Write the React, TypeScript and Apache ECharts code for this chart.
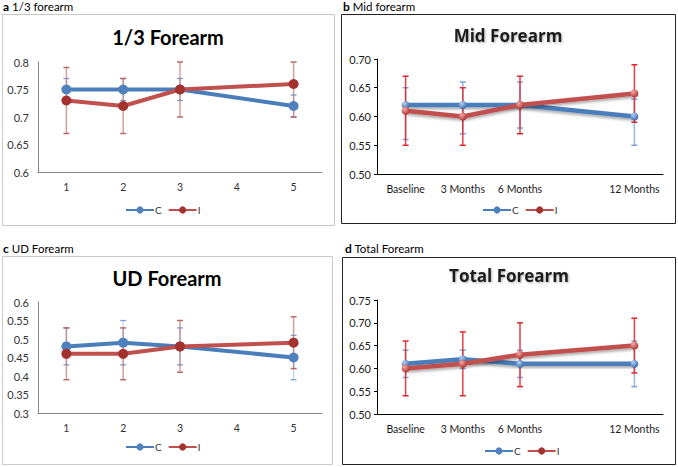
import React, { useEffect, useRef } from "react";
import * as echarts from "echarts";

const catsNum = ["1", "2", "3", "4", "5"];
const catsMonths = ["Baseline", "3 Months", "6 Months", "", "12 Months"];

// a: 1/3 forearm
const cA = [0.75, 0.75, 0.75, null, 0.72];
const cALow = [0.73, 0.73, 0.73, null, 0.7];
const cAHigh = [0.77, 0.77, 0.77, null, 0.74];
const iA = [0.73, 0.72, 0.75, null, 0.76];
const iALow = [0.67, 0.67, 0.7, null, 0.7];
const iAHigh = [0.79, 0.77, 0.8, null, 0.8];

// b: Mid forearm
const cB = [0.62, 0.62, 0.62, null, 0.6];
const cBLow = [0.56, 0.57, 0.58, null, 0.55];
const cBHigh = [0.65, 0.66, 0.66, null, 0.63];
const iB = [0.61, 0.6, 0.62, null, 0.64];
const iBLow = [0.55, 0.55, 0.57, null, 0.59];
const iBHigh = [0.67, 0.65, 0.67, null, 0.69];

// c: UD forearm
const cC = [0.48, 0.49, 0.48, null, 0.45];
const cCLow = [0.43, 0.43, 0.43, null, 0.39];
const cCHigh = [0.53, 0.55, 0.53, null, 0.51];
const iC = [0.46, 0.46, 0.48, null, 0.49];
const iCLow = [0.39, 0.39, 0.41, null, 0.42];
const iCHigh = [0.53, 0.53, 0.55, null, 0.56];

// d: Total forearm
const cD = [0.61, 0.62, 0.61, null, 0.61];
const cDLow = [0.58, 0.6, 0.58, null, 0.56];
const cDHigh = [0.64, 0.64, 0.64, null, 0.66];
const iD = [0.6, 0.61, 0.63, null, 0.65];
const iDLow = [0.54, 0.54, 0.56, null, 0.59];
const iDHigh = [0.66, 0.68, 0.7, null, 0.71];

const yRanges = [
  { min: 0.6, max: 0.8, interval: 0.05, fixed: false },
  { min: 0.5, max: 0.7, interval: 0.05, fixed: true },
  { min: 0.3, max: 0.6, interval: 0.05, fixed: false },
  { min: 0.5, max: 0.75, interval: 0.05, fixed: true },
];

const FONT = "Lato";

export default function App() {
  const ref = useRef<HTMLDivElement>(null);
  useEffect(() => {
    document.body.style.margin = "0";
    const chart = echarts.init(ref.current!, null, { renderer: "svg" });

    const panels = [
      { cats: catsNum, c: cA, cl: cALow, ch: cAHigh, i: iA, il: iALow, ih: iAHigh, excel: false },
      { cats: catsMonths, c: cB, cl: cBLow, ch: cBHigh, i: iB, il: iBLow, ih: iBHigh, excel: true },
      { cats: catsNum, c: cC, cl: cCLow, ch: cCHigh, i: iC, il: iCLow, ih: iCHigh, excel: false },
      { cats: catsMonths, c: cD, cl: cDLow, ch: cDHigh, i: iD, il: iDLow, ih: iDHigh, excel: true },
    ];

    const grids = [
      { left: 38, top: 62, width: 284, height: 110 },
      { left: 377, top: 59, width: 286, height: 115 },
      { left: 38, top: 302, width: 284, height: 111 },
      { left: 377, top: 300, width: 286, height: 114 },
    ];

    const blueSphere = new echarts.graphic.RadialGradient(0.35, 0.3, 0.75, [
      { offset: 0, color: "#b7d0f2" },
      { offset: 1, color: "#3567ad" },
    ]);
    const redSphere = new echarts.graphic.RadialGradient(0.35, 0.3, 0.75, [
      { offset: 0, color: "#f3aaa8" },
      { offset: 1, color: "#b12f2c" },
    ]);

    const errSeries = (
      k: number,
      name: string,
      lo: (number | null)[],
      hi: (number | null)[],
      lineColor: string,
      capColor: string,
      width: number
    ) => {
      const data: number[][] = [];
      lo.forEach((v, idx) => {
        if (v != null && hi[idx] != null) data.push([idx, v, hi[idx] as number]);
      });
      return {
        type: "custom",
        name: name + "_err",
        xAxisIndex: k,
        yAxisIndex: k,
        z: 1,
        silent: true,
        encode: { x: 0, y: [1, 2] },
        data,
        renderItem: (params: any, api: any) => {
          const x = api.value(0);
          const pLo = api.coord([x, api.value(1)]);
          const pHi = api.coord([x, api.value(2)]);
          const w = 3;
          return {
            type: "group",
            children: [
              {
                type: "line",
                shape: { x1: pLo[0], y1: pLo[1], x2: pHi[0], y2: pHi[1] },
                style: { stroke: lineColor, lineWidth: width },
              },
              {
                type: "line",
                shape: { x1: pLo[0] - w, y1: pLo[1], x2: pLo[0] + w, y2: pLo[1] },
                style: { stroke: capColor, lineWidth: width },
              },
              {
                type: "line",
                shape: { x1: pHi[0] - w, y1: pHi[1], x2: pHi[0] + w, y2: pHi[1] },
                style: { stroke: capColor, lineWidth: width },
              },
            ],
          };
        },
      };
    };

    const series: any[] = [];
    panels.forEach((p, k) => {
      if (p.excel) {
        series.push(
          errSeries(k, "C", p.cl, p.ch, "rgba(120,160,215,0.75)", "#7ea3d6", 1.5),
          errSeries(k, "I", p.il, p.ih, "rgba(225,30,35,0.85)", "#e0282e", 1.5)
        );
      } else {
        series.push(
          errSeries(k, "C", p.cl, p.ch, "rgba(120,160,215,0.45)", "#7f9fd3", 1.3),
          errSeries(k, "I", p.il, p.ih, "rgba(180,95,95,0.6)", "#b96b69", 1.5)
        );
      }
      const shadow = p.excel
        ? { shadowColor: "rgba(0,0,0,0.35)", shadowBlur: 3, shadowOffsetY: 2 }
        : {};
      series.push({
        type: "line",
        name: "C",
        xAxisIndex: k,
        yAxisIndex: k,
        z: 3,
        data: p.c,
        connectNulls: true,
        symbol: "circle",
        symbolSize: p.excel ? 8 : 10,
        lineStyle: { color: "#4a7ebb", width: p.excel ? 4.5 : 4, ...shadow },
        itemStyle: { color: p.excel ? blueSphere : "#4f81bd" },
      });
      series.push({
        type: "line",
        name: "I",
        xAxisIndex: k,
        yAxisIndex: k,
        z: 4,
        data: p.i,
        connectNulls: true,
        symbol: "circle",
        symbolSize: p.excel ? 8 : 10,
        lineStyle: { color: "#c0504d", width: p.excel ? 4.5 : 4, ...shadow },
        itemStyle: { color: p.excel ? redSphere : "#a3322f" },
      });
    });

    const xAxis = panels.map((p, k) => ({
      type: "category",
      gridIndex: k,
      data: p.cats,
      boundaryGap: true,
      axisLine: { lineStyle: { color: p.excel ? "#000" : "#868686", width: 1 } },
      axisTick: { show: false },
      axisLabel: {
        interval: 0,
        color: p.excel ? "#1a1a1a" : "#333",
        fontFamily: FONT,
        fontSize: 10.5,
        margin: 9,
      },
      splitLine: { show: false },
    }));

    const yAxis = yRanges.map((r, k) => ({
      type: "value",
      gridIndex: k,
      min: r.min,
      max: r.max,
      interval: r.interval,
      axisLine: { show: true, lineStyle: { color: r.fixed ? "#000" : "#868686", width: 1 } },
      axisTick: { show: r.fixed, length: 3, lineStyle: { color: "#000" } },
      splitLine: { show: false },
      axisLabel: {
        color: r.fixed ? "#1a1a1a" : "#333",
        fontFamily: FONT,
        fontSize: 11,
        margin: r.fixed ? 6 : 9,
        formatter: (v: number) =>
          r.fixed ? v.toFixed(2) : String(parseFloat(v.toFixed(2))),
      },
    }));

    const legendPos = [
      { left: 120, top: 200 },
      { left: 477, top: 200 },
      { left: 120, top: 437 },
      { left: 479, top: 441 },
    ];
    const legend = legendPos.map((pos) => ({
      ...pos,
      data: ["C", "I"],
      itemWidth: 28,
      itemHeight: 9,
      itemGap: 6,
      textStyle: { fontFamily: FONT, fontSize: 10, color: "#333", padding: [0, 0, 0, -4] },
    }));

    const panelLabel = (x: number, y: number, letter: string, text: string) => ({
      type: "text",
      left: x,
      top: y,
      style: {
        text: `{b|${letter}} ${text}`,
        rich: {
          b: { fontWeight: "bold", fontSize: 12, fontFamily: FONT, fill: "#000" },
        },
        fontSize: 11.5,
        fontFamily: FONT,
        fill: "#000",
      },
    });

    const titleText = (x: number, y: number, text: string, excel: boolean) => ({
      type: "text",
      x,
      y,
      z: 10,
      style: {
        text,
        x: 0,
        y: 0,
        align: "center",
        verticalAlign: "middle",
        fontFamily: excel ? "Open Sans" : FONT,
        fontWeight: "bold",
        fontSize: excel ? 17 : 20,
        fill: excel ? "#1f1f1f" : "#000",
        ...(excel
          ? {
              textShadowColor: "rgba(0,0,0,0.3)",
              textShadowBlur: 2,
              textShadowOffsetX: 1,
              textShadowOffsetY: 1,
            }
          : {}),
      },
    });

    const graphic: any[] = [
      {
        type: "rect",
        shape: { x: 2.5, y: 14.5, width: 332, height: 211 },
        style: { fill: "none", stroke: "#c8c8c8", lineWidth: 1 },
      },
      {
        type: "rect",
        shape: { x: 341.5, y: 14.5, width: 334, height: 209 },
        style: { fill: "none", stroke: "#222", lineWidth: 1 },
      },
      {
        type: "rect",
        shape: { x: 2.5, y: 256.5, width: 330, height: 208 },
        style: { fill: "none", stroke: "#c8c8c8", lineWidth: 1 },
      },
      {
        type: "rect",
        shape: { x: 342.5, y: 257.5, width: 333, height: 207 },
        style: { fill: "none", stroke: "#222", lineWidth: 1 },
      },
      panelLabel(3, 0, "a", "1/3 forearm"),
      panelLabel(343, 0, "b", "Mid forearm"),
      panelLabel(3, 242, "c", "UD Forearm"),
      panelLabel(345, 242, "d", "Total Forearm"),
      titleText(168, 37, "1/3 Forearm", false),
      titleText(508, 35, "Mid Forearm", true),
      titleText(167, 278, "UD Forearm", false),
      titleText(509, 275, "Total Forearm", true),
    ];

    chart.setOption({
      animation: false,
      backgroundColor: "#fff",
      grid: grids,
      xAxis,
      yAxis,
      legend,
      series,
      graphic,
    });

    return () => chart.dispose();
  }, []);

  return <div ref={ref} style={{ width: 678, height: 467 }} />;
}
